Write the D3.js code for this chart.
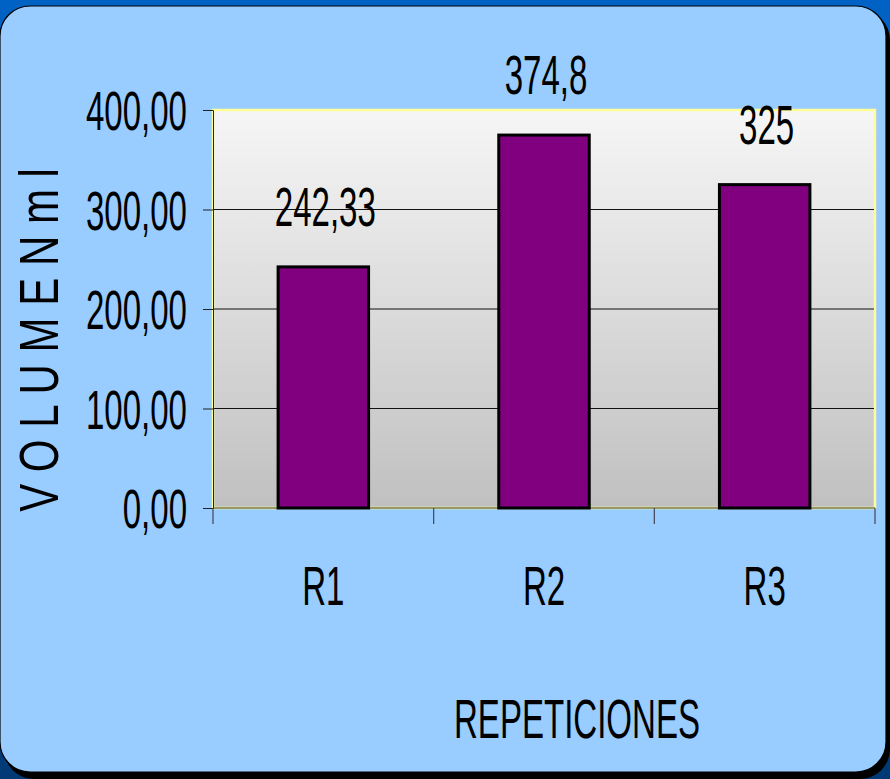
<!DOCTYPE html>
<html>
<head>
<meta charset="utf-8">
<script src="https://cdn.jsdelivr.net/npm/d3@7"></script>
<style>
  html, body { margin: 0; padding: 0; background: #0060c0; }
  svg { display: block; }
  text { font-family: "Liberation Sans", Arial, sans-serif; fill: #000; }
</style>
</head>
<body>
<div class="result"></div>
<script>
const categories = ['R1', 'R2', 'R3']
const values = [242.33, 374.8, 325]
const valueLabels = ['242,33', '374,8', '325']
const yTicks = [0, 100, 200, 300, 400]

const width = 890
const height = 779
const squeeze = 0.59
const plot = { left: 213, right: 875, top: 110, bottom: 508 }

const locale = d3.formatLocale({ decimal: ',', thousands: '.', grouping: [3], currency: ['', ''] })
const fmt = locale.format('.2f')

const svg = d3
  .select('.result')
  .append('svg')
  .attr('width', width)
  .attr('height', height)

const defs = svg.append('defs')
const bg = defs.append('linearGradient').attr('id', 'bg').attr('x1', 0).attr('y1', 0).attr('x2', 0).attr('y2', 1)
bg.append('stop').attr('offset', '0%').attr('stop-color', '#0062c4')
bg.append('stop').attr('offset', '60%').attr('stop-color', '#00509f')
bg.append('stop').attr('offset', '100%').attr('stop-color', '#003a75')
const plotGrad = defs.append('linearGradient').attr('id', 'plotGrad').attr('x1', 0).attr('y1', 0).attr('x2', 0).attr('y2', 1)
plotGrad.append('stop').attr('offset', '0%').attr('stop-color', '#f6f6f6')
plotGrad.append('stop').attr('offset', '100%').attr('stop-color', '#c0c0c0')

// frame
svg.append('rect').attr('width', width).attr('height', height).attr('fill', 'url(#bg)')
svg.append('rect')
  .attr('x', 4).attr('y', 10).attr('width', 886).attr('height', 769)
  .attr('rx', 30).attr('fill', '#000')
svg.append('rect')
  .attr('x', 0).attr('y', 6).attr('width', 886).attr('height', 766)
  .attr('rx', 30).attr('fill', '#99ccff')
  .attr('stroke', '#000').attr('stroke-width', 1.2)

const x = d3.scaleBand()
  .domain(categories)
  .range([plot.left, plot.right])
  .paddingInner(0.59)
  .paddingOuter(0.295)
const xCat = d3.scaleBand().domain(categories).range([plot.left, plot.right]).padding(0)
const y = d3.scaleLinear().domain([0, 400]).range([plot.bottom, plot.top])

// plot area
svg.append('rect')
  .attr('x', plot.left).attr('y', plot.top)
  .attr('width', plot.right - plot.left).attr('height', plot.bottom - plot.top)
  .attr('fill', 'url(#plotGrad)')
  .attr('stroke', '#ffff99').attr('stroke-width', 2.5)

// gridlines
svg.append('g')
  .selectAll('line')
  .data(yTicks.filter((d) => d > 0 && d < 400))
  .enter()
  .append('line')
  .attr('x1', plot.left).attr('x2', plot.right - 1)
  .attr('y1', (d) => y(d)).attr('y2', (d) => y(d))
  .attr('stroke', '#111').attr('stroke-width', 1)

// y axis
const yAxis = svg.append('g')
  .attr('transform', 'translate(' + plot.left + ',0)')
  .call(d3.axisLeft(y).tickValues(yTicks).tickSize(10).tickFormat(''))
yAxis.select('.domain').attr('stroke', '#222')
yAxis.selectAll('.tick line').attr('stroke', '#222')

svg.append('g')
  .selectAll('text')
  .data(yTicks)
  .enter()
  .append('text')
  .attr('transform', (d) => 'translate(187,' + (y(d) + 20) + ') scale(' + squeeze + ',1)')
  .attr('text-anchor', 'end')
  .attr('font-size', 56)
  .text((d) => fmt(d))

// x axis
const xAxisG = svg.append('g').attr('transform', 'translate(0,' + plot.bottom + ')')
xAxisG.append('line')
  .attr('x1', plot.left).attr('x2', plot.right)
  .attr('stroke', '#333').attr('stroke-width', 1)
xAxisG.selectAll('line.tk')
  .data(categories.map((c) => xCat(c)).concat([plot.right]))
  .enter()
  .append('line')
  .attr('class', 'tk')
  .attr('x1', (d) => d).attr('x2', (d) => d)
  .attr('y1', 0).attr('y2', 16)
  .attr('stroke', '#445').attr('stroke-width', 1.2)

svg.append('g')
  .selectAll('text')
  .data(categories)
  .enter()
  .append('text')
  .attr('transform', (d) => 'translate(' + (xCat(d) + xCat.bandwidth() / 2) + ',605) scale(' + squeeze + ',1)')
  .attr('text-anchor', 'middle')
  .attr('font-size', 56)
  .text((d) => d)

// bars
svg.append('g')
  .selectAll('rect')
  .data(values)
  .enter()
  .append('rect')
  .attr('x', (d, i) => x(categories[i]))
  .attr('y', (d) => y(d))
  .attr('width', x.bandwidth())
  .attr('height', (d) => plot.bottom - y(d))
  .attr('fill', '#800080')
  .attr('stroke', '#000')
  .attr('stroke-width', 3)

// value labels
svg.append('g')
  .selectAll('text')
  .data(values)
  .enter()
  .append('text')
  .attr('transform', (d, i) => 'translate(' + (x(categories[i]) + x.bandwidth() / 2 + 2) + ',' + (y(d) - 41) + ') scale(' + squeeze + ',1)')
  .attr('text-anchor', 'middle')
  .attr('font-size', 56)
  .text((d, i) => valueLabels[i])

// axis titles
svg.append('text')
  .attr('transform', 'translate(577,738) scale(' + squeeze + ',1)')
  .attr('text-anchor', 'middle')
  .attr('font-size', 56)
  .text('REPETICIONES')

svg.append('text')
  .attr('transform', 'translate(58,340) rotate(-90) scale(0.75,1)')
  .attr('text-anchor', 'middle')
  .attr('font-size', 56)
  .style('white-space', 'pre')
  .text('V O L U M E N m l')
</script>
</body>
</html>
